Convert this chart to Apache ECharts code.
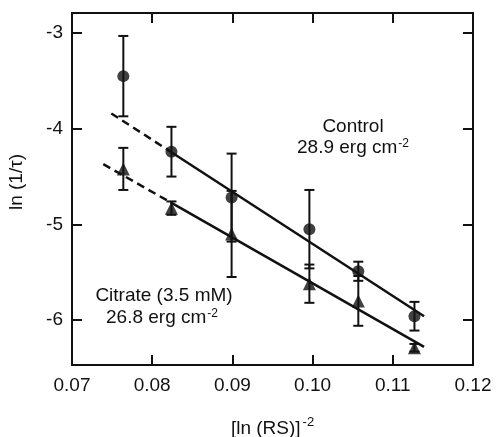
<!DOCTYPE html>
<html>
<head>
<meta charset="utf-8">
<script src="https://cdn.jsdelivr.net/npm/echarts@6/dist/echarts.min.js"></script>
<style>
  html, body { margin: 0; padding: 0; background: #fff; }
  #chart { width: 498px; height: 437px; }
</style>
</head>
<body>
<div id="chart"></div>
<script>
// x = [ln (RS)]^-2
const xValues = [0.0764, 0.0824, 0.0899, 0.0996, 0.1057, 0.1127];

// Control (circles)
const controlY = [-3.45, -4.24, -4.72, -5.05, -5.49, -5.96];
const controlErr = [0.42, 0.26, 0.46, 0.41, 0.10, 0.15];

// Citrate 3.5 mM (triangles)
const citrateY = [-4.42, -4.83, -5.10, -5.62, -5.80, -6.29];
const citrateErr = [0.22, 0.07, 0.45, 0.20, 0.26, 0.04];

// fitted lines: [x, y] end points, dashed extrapolation + solid fit
const controlFitDashed = [[0.0749, -3.84], [0.0823, -4.24]];
const controlFitSolid = [[0.0823, -4.24], [0.1139, -5.96]];
const citrateFitDashed = [[0.0739, -4.37], [0.0823, -4.77]];
const citrateFitSolid = [[0.0823, -4.77], [0.1139, -6.28]];

const yTicks = [-3, -4, -5, -6];

const FONT = "'Liberation Sans', Arial, sans-serif";
const INK = '#111';

let myChart = echarts.init(document.getElementById('chart'));

function errorSeries(name, ys, errs) {
  return {
    name: name,
    type: 'custom',
    z: 3,
    data: xValues.map((x, i) => [x, ys[i] + errs[i], ys[i] - errs[i]]),
    renderItem: function (params, api) {
      let hi = api.coord([api.value(0), api.value(1)]);
      let lo = api.coord([api.value(0), api.value(2)]);
      let w = 5;
      let style = { stroke: INK, lineWidth: 2 };
      return {
        type: 'group',
        children: [
          { type: 'line', shape: { x1: hi[0], y1: hi[1], x2: lo[0], y2: lo[1] }, style: style },
          { type: 'line', shape: { x1: hi[0] - w, y1: hi[1], x2: hi[0] + w, y2: hi[1] }, style: style },
          { type: 'line', shape: { x1: lo[0] - w, y1: lo[1], x2: lo[0] + w, y2: lo[1] }, style: style }
        ]
      };
    }
  };
}

function fitLine(data, dashed) {
  return {
    type: 'line',
    data: data,
    symbol: 'none',
    z: 2,
    lineStyle: { color: INK, width: 2.5, type: dashed ? [8, 5] : 'solid' },
    silent: true
  };
}

const axisCommon = {
  axisLine: { show: true, onZero: false, lineStyle: { color: INK, width: 2 } },
  axisTick: { show: true, inside: true, length: 10, lineStyle: { color: INK, width: 2 } },
  splitLine: { show: false }
};

let option = {
  backgroundColor: '#fff',
  animation: false,
  grid: { left: 72, right: 25, top: 13, bottom: 72, outerBoundsMode: 'none', containLabel: false },
  xAxis: [
    Object.assign({}, axisCommon, {
      type: 'value',
      min: 0.07,
      max: 0.12,
      interval: 0.01,
      position: 'bottom',
      name: '{m|[ln (RS)]}{s|-2}',
      nameLocation: 'middle',
      nameGap: 51,
      nameTextStyle: {
        rich: {
          m: { fontFamily: FONT, fontSize: 19, color: INK },
          s: { fontFamily: FONT, fontSize: 13, color: INK, padding: [0, 0, 12, 2] }
        }
      },
      axisLabel: {
        margin: 11,
        fontFamily: FONT,
        fontSize: 19,
        color: INK,
        formatter: v => v.toFixed(2)
      }
    }),
    Object.assign({}, axisCommon, {
      type: 'value',
      min: 0.07,
      max: 0.12,
      interval: 0.01,
      position: 'top',
      axisLabel: { show: false }
    })
  ],
  yAxis: [
    Object.assign({}, axisCommon, {
      type: 'value',
      min: -6.47,
      max: -2.79,
      position: 'left',
      axisTick: Object.assign({}, axisCommon.axisTick, { customValues: yTicks }),
      axisLabel: {
        customValues: yTicks,
        margin: 9,
        fontFamily: FONT,
        fontSize: 19,
        color: INK,
        formatter: v => String(Math.round(v))
      }
    }),
    Object.assign({}, axisCommon, {
      type: 'value',
      min: -6.47,
      max: -2.79,
      position: 'right',
      axisTick: Object.assign({}, axisCommon.axisTick, { customValues: yTicks }),
      axisLabel: { show: false }
    })
  ],
  series: [
    fitLine(controlFitDashed, true),
    fitLine(controlFitSolid, false),
    fitLine(citrateFitDashed, true),
    fitLine(citrateFitSolid, false),
    errorSeries('Control err', controlY, controlErr),
    errorSeries('Citrate err', citrateY, citrateErr),
    {
      name: 'Control',
      type: 'scatter',
      z: 4,
      symbol: 'circle',
      symbolSize: 12,
      itemStyle: { color: INK },
      data: xValues.map((x, i) => [x, controlY[i]])
    },
    {
      name: 'Citrate (3.5 mM)',
      type: 'scatter',
      z: 4,
      symbol: 'triangle',
      symbolSize: 13,
      itemStyle: { color: INK },
      data: xValues.map((x, i) => [x, citrateY[i]])
    }
  ],
  graphic: [
    {
      type: 'text',
      x: 17, y: 182,
      rotation: Math.PI / 2,
      style: { text: 'ln (1/τ)', font: '19px ' + FONT, fill: INK, align: 'center', verticalAlign: 'middle' }
    },
    {
      type: 'text',
      x: 353, y: 127,
      style: { text: 'Control', font: '19px ' + FONT, fill: INK, align: 'center', verticalAlign: 'middle' }
    },
    {
      type: 'text',
      x: 353, y: 148,
      style: {
        text: '{m|28.9 erg cm}{s|-2}',
        align: 'center', verticalAlign: 'middle',
        rich: {
          m: { fontFamily: FONT, fontSize: 19, fill: INK },
          s: { fontFamily: FONT, fontSize: 12, fill: INK, padding: [0, 0, 8, 1] }
        }
      }
    },
    {
      type: 'text',
      x: 164, y: 296,
      style: { text: 'Citrate (3.5 mM)', font: '19px ' + FONT, fill: INK, align: 'center', verticalAlign: 'middle' }
    },
    {
      type: 'text',
      x: 162, y: 318,
      style: {
        text: '{m|26.8 erg cm}{s|-2}',
        align: 'center', verticalAlign: 'middle',
        rich: {
          m: { fontFamily: FONT, fontSize: 19, fill: INK },
          s: { fontFamily: FONT, fontSize: 12, fill: INK, padding: [0, 0, 8, 1] }
        }
      }
    }
  ]
};

myChart.setOption(option);
</script>
</body>
</html>
